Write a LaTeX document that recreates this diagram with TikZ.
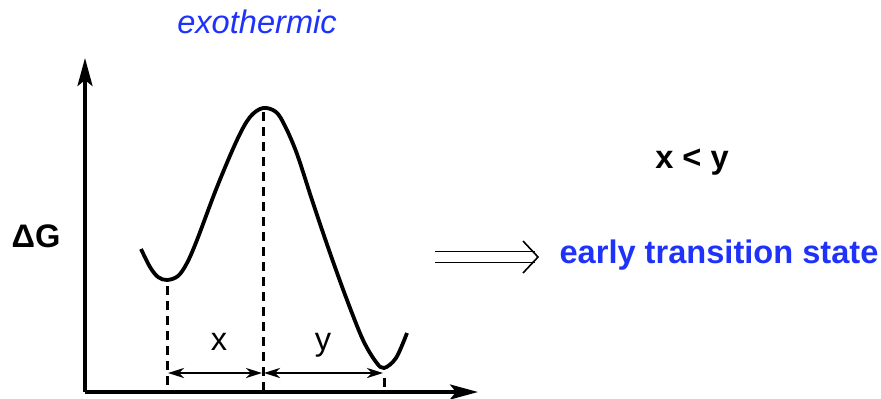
\documentclass[tikz,border=0pt]{standalone}
\usepackage{fontspec}
\setmainfont{Liberation Sans}
\usetikzlibrary{arrows.meta}
\definecolor{exoblue}{RGB}{30,50,250}
\tikzset{
  lbl/.style={inner sep=0pt, font=\fontsize{16.3}{19}\selectfont},
  axisline/.style={line width=1.8pt, -{Stealth[length=14pt,width=7.5pt,inset=3pt]}},
  curveline/.style={line width=1.9pt},
  dashline/.style={line width=1.5pt, dash pattern=on 4.5pt off 3pt},
  dimarrow/.style={line width=1.3pt, {Stealth[length=8pt,width=5pt,inset=2.5pt]}-{Stealth[length=8pt,width=5pt,inset=2.5pt]}},
  dblline/.style={line width=0.8pt},
}
\begin{document}
\begin{tikzpicture}[x=0.5pt,y=-0.5pt]
\useasboundingbox (0,0) rectangle (881,398);
% axes
\coordinate (origin) at (85,392);
\coordinate (ytip) at (85,58);
\coordinate (xtip) at (478,392);
\draw[axisline] (origin) -- (ytip);
\draw[axisline] (origin) -- (xtip);
% curve
\coordinate (min1) at (167,280);
\coordinate (peak) at (263,108);
\coordinate (min2) at (384,368);
\draw[curveline] plot[smooth, tension=0.55] coordinates {
 (141,249) (150,267) (158,277) (167,280) (178,276) (187,263) (197,240)
 (217,187) (237,140) (250,117) (263,108) (276,112) (285,126) (297,154)
 (313,203) (330,253) (347,300) (363,340) (376,362) (384,368) (396,358) (407,333)};
% dashed verticals
\coordinate (b1) at (167,388);
\coordinate (b2) at (263,390);
\coordinate (t3) at (384,378);
\coordinate (b3) at (384,388);
\draw[dashline] ([yshift=-3pt]min1) -- (b1);
\draw[dashline] ([yshift=-2pt]peak) -- (b2);
\draw[dashline] (t3) -- (b3);
% dimension arrows
\coordinate (a1) at (168,373);
\coordinate (a2) at (262,373);
\coordinate (a3) at (264,373);
\coordinate (a4) at (383,373);
\draw[dimarrow] (a1) -- (a2);
\draw[dimarrow] (a3) -- (a4);
\node[lbl] (xlab) at (219,342) {x};
\node[lbl] (ylab) at (323,345) {y};
% labels
\node[lbl, font=\fontsize{16.3}{19}\selectfont\bfseries] (dg) at (36,236) {ΔG};
\node[lbl, text=exoblue, font=\fontsize{16.3}{19}\selectfont\itshape] (exo) at (257,22) {exothermic};
\node[lbl, font=\fontsize{16.3}{19}\selectfont\bfseries] (xy) at (692,162) {x < y};
\node[lbl, text=exoblue, font=\fontsize{16.3}{19}\selectfont\bfseries] (ets) at (719,255) {early transition state};
% double arrow (implies)
\coordinate (dstart) at (435,257);
\coordinate (dtip) at (538,257);
\draw[dblline] (dstart) ++(0,-5.5) -- ++(100,0);
\draw[dblline] (dstart) ++(0,5.5) -- ++(100,0);
\draw[dblline, line join=miter] (dtip) ++(-15,-16) -- (dtip) -- ++(-15,16);
\end{tikzpicture}
\end{document}
